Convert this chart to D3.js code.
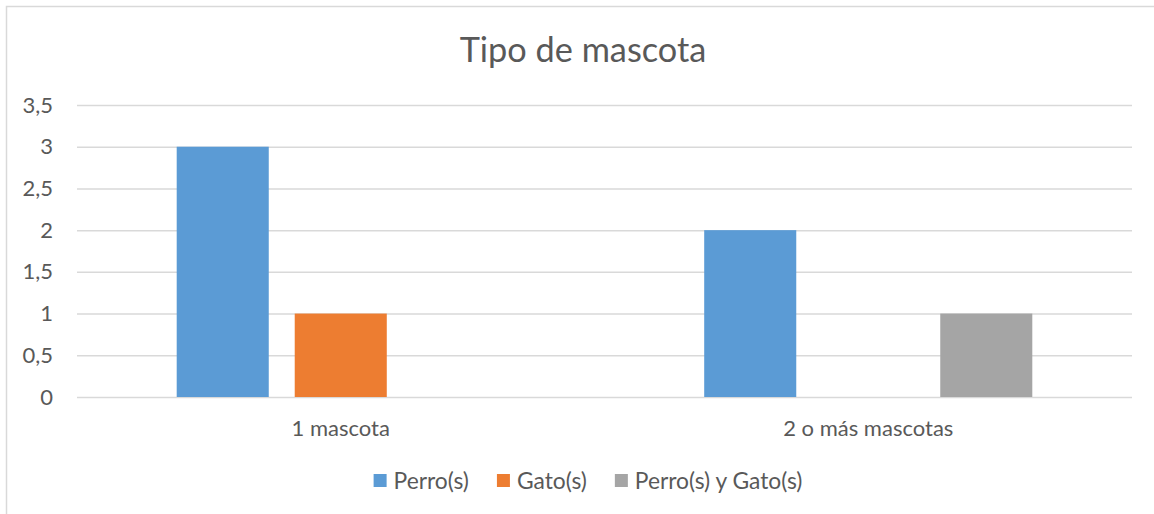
<!DOCTYPE html>
<html><head><meta charset="utf-8">
<script src="https://cdn.jsdelivr.net/npm/d3@7"></script>
<style>body{margin:0;background:#fff}svg{display:block}text{font-family:Lato,"Open Sans",sans-serif;fill:#595959}</style>
</head><body><svg id="c" width="1154" height="514"></svg>
<script>
const title = "Tipo de mascota";
const categories = ["1 mascota", "2 o más mascotas"];
const seriesNames = ["Perro(s)", "Gato(s)", "Perro(s) y Gato(s)"];
const perro = [3, 2];
const gato = [1, 0];
const ambos = [0, 1];
const yTicks = [0, 0.5, 1, 1.5, 2, 2.5, 3, 3.5];
const colors = ["#5B9BD5", "#ED7D31", "#A5A5A5"];

const seriesValues = [perro, gato, ambos];
const svg = d3.select("#c");
const W = 1154, H = 514;
const m = {left: 77, right: 22, top: 105, bottom: 117};
const FS = 22;
const LFS = 22.8;

svg.append("rect").attr("x", 6.5).attr("y", 6.5).attr("width", 1300).attr("height", 700)
  .attr("fill", "none").attr("stroke", "#d9d9d9").attr("stroke-width", 1.5);

const x0 = d3.scaleBand().domain(categories).range([m.left, W - m.right]).padding(0);
const bw0 = x0.bandwidth();
const groupPad = 0.189 * bw0;
const x1 = d3.scaleBand().domain(seriesNames).range([groupPad, bw0 - groupPad]).paddingInner(0.22).paddingOuter(0);
const y = d3.scaleLinear().domain([0, 3.5]).range([H - m.bottom, m.top]);

const fmt = v => String(v).replace(".", ",");
const yAxis = d3.axisLeft(y).tickValues(yTicks).tickSize(-(W - m.right - m.left)).tickFormat(fmt).tickPadding(24);
const gy = svg.append("g").attr("transform", `translate(${m.left},0)`).call(yAxis);
gy.select(".domain").remove();
gy.selectAll(".tick line").attr("stroke", "#d9d9d9").attr("stroke-width", 1.5);
gy.selectAll(".tick text").attr("font-size", FS).attr("fill", "#595959").attr("font-family", "Lato,'Open Sans',sans-serif");

const xAxis = d3.axisBottom(x0).tickSize(0).tickPadding(23);
const gx = svg.append("g").attr("transform", `translate(0,${H - m.bottom})`).call(xAxis);
gx.select(".domain").remove();
gx.selectAll(".tick text").attr("font-size", FS).attr("fill", "#595959").attr("font-family", "Lato,'Open Sans',sans-serif");

const groups = svg.append("g").selectAll("g").data(categories).join("g")
  .attr("transform", d => `translate(${x0(d)},0)`);
groups.selectAll("rect").data((d, i) => seriesNames.map((s, j) => ({s, j, v: seriesValues[j][i]})))
  .join("rect")
  .attr("x", d => x1(d.s)).attr("width", x1.bandwidth())
  .attr("y", d => y(d.v)).attr("height", d => y(0) - y(d.v))
  .attr("fill", d => colors[d.j]);

svg.append("text").attr("x", 583).attr("y", 62).attr("text-anchor", "middle")
  .attr("font-size", 34.3).text(title);

// legend
const leg = svg.append("g");
let cx = 0;
const gap = 28;
seriesNames.forEach((s, j) => {
  const g = leg.append("g");
  g.append("rect").attr("x", 0).attr("y", -7).attr("width", 13).attr("height", 13).attr("fill", colors[j]);
  const t = g.append("text").attr("x", 20).attr("y", 0).attr("dy", "0.35em").attr("font-size", LFS).text(s);
  const w = 20 + t.node().getComputedTextLength();
  g.attr("transform", `translate(${cx},0)`);
  cx += w + gap;
});
const total = cx - gap;
leg.attr("transform", `translate(${588 - total / 2},481)`);
</script></body></html>
